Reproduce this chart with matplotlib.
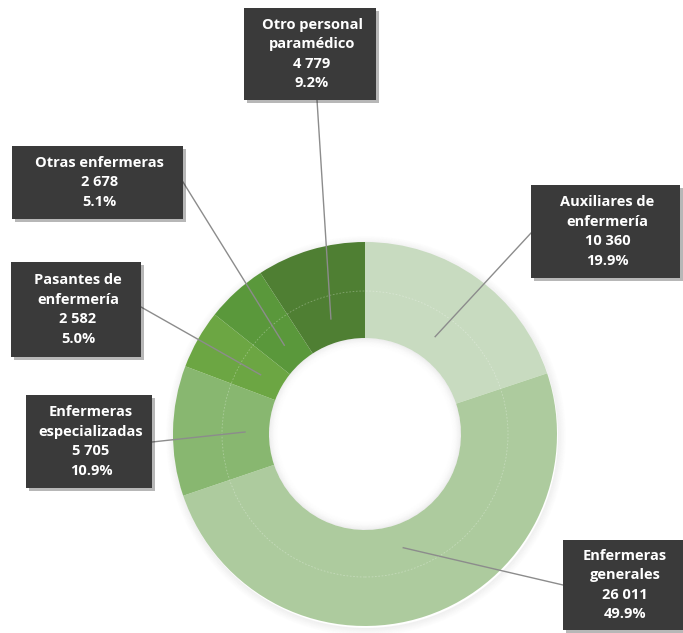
import matplotlib
matplotlib.use("Agg")
import matplotlib.pyplot as plt
from matplotlib.patches import Rectangle, Circle, Wedge
import matplotlib.patheffects as pe
import numpy as np

categories = ["Auxiliares de\nenfermería", "Enfermeras\ngenerales", "Enfermeras\nespecializadas",
              "Pasantes de\nenfermería", "Otras enfermeras", "Otro personal\nparamédico"]
values = [10360, 26011, 5705, 2582, 2678, 4779]
value_labels = ["10 360", "26 011", "5 705", "2 582", "2 678", "4 779"]
pct_labels = ["19.9%", "49.9%", "10.9%", "5.0%", "5.1%", "9.2%"]
colors = ["#c8dbc0", "#adcb9e", "#88b770", "#6ca643", "#5a983b", "#4f7f33"]

W, H = 683, 633
fig = plt.figure(figsize=(W/100, H/100), dpi=100)
ax = fig.add_axes([0, 0, 1, 1])

cx, cy = 365, H - 434
R, ring = 192, 96

# soft outer shadow
for i in range(8):
    ax.add_patch(Wedge((cx + 1, cy - 2), R + 1 + i, 0, 360, width=1.2,
                       color="black", alpha=0.05 * (1 - i / 8), lw=0, zorder=0))

wedges, _ = ax.pie(values, colors=colors, startangle=90, counterclock=False,
                   center=(cx, cy), radius=R, wedgeprops=dict(width=ring, linewidth=0),
                   frame=True)
ax.set_xlim(0, W)
ax.set_ylim(0, H)
ax.set_aspect("equal")
ax.axis("off")

# inner hole soft shadow
r_in = R - ring
for i in range(10):
    ax.add_patch(Wedge((cx, cy), r_in - i, 0, 360, width=1.0,
                       color="black", alpha=0.07 * (1 - i / 10) ** 2, lw=0, zorder=4))
# faint guide circle
ax.add_patch(Circle((cx, cy), 143, fill=False, ec="white", lw=0.6, alpha=0.3, ls=(0, (2, 2)), zorder=3))

# label boxes (x0, y0_top, x1, y1_bottom) in image pixels, plus leader attachment
boxes = [
    (531, 185, 680, 278, (531, 233)),
    (563, 540, 690, 630, (563, 585)),
    (26, 395, 152, 488, (152, 442)),
    (11, 262, 141, 357, (141, 307)),
    (12, 146, 183, 219, (183, 182)),
    (244, 8, 376, 100, (317, 100)),
]

total = sum(values)
start = 90.0
for i, v in enumerate(values):
    span = 360.0 * v / total
    mid = np.deg2rad(start - span / 2)
    start -= span
    px, py = cx + 120 * np.cos(mid), cy + 120 * np.sin(mid)
    x0, y0, x1, y1, (ax_, ay_) = boxes[i]
    ax.plot([ax_, px], [H - ay_, py], color="#8c8c8c", lw=1.0, zorder=5)
    rect = Rectangle((x0, H - y1), x1 - x0, y1 - y0, facecolor="#3a3a3a", edgecolor="none", zorder=6,
                     path_effects=[pe.SimplePatchShadow(offset=(2, -2), alpha=0.3), pe.Normal()])
    ax.add_patch(rect)
    txt = f"{categories[i]}\n{value_labels[i]}\n{pct_labels[i]}"
    ax.text((x0 + min(x1, W)) / 2 + 2, H - (y0 + y1) / 2, txt, ha="center", va="center",
            multialignment="center", color="white", fontsize=10.5, fontweight="bold",
            family="Open Sans", linespacing=1.5, zorder=7)

fig.savefig("out.png", dpi=100, facecolor="white")
